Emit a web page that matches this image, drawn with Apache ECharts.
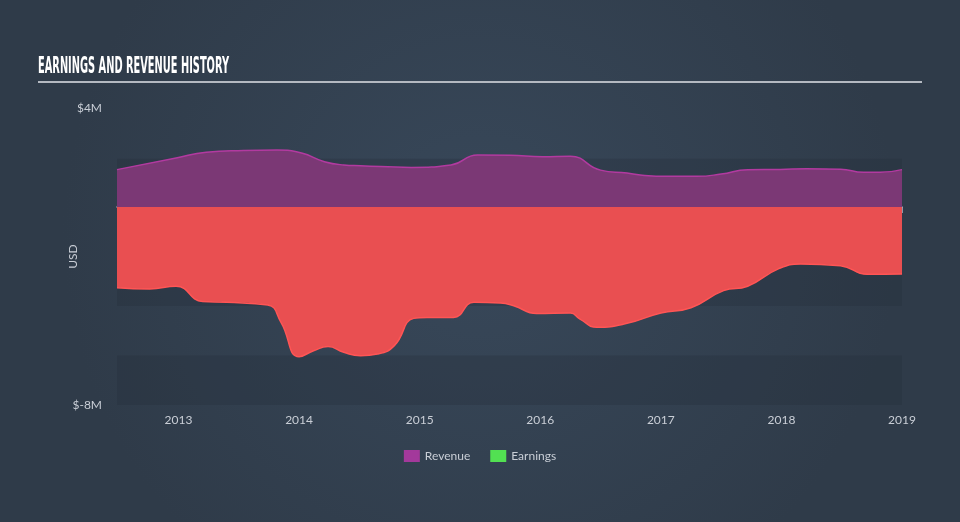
<!DOCTYPE html>
<html>
<head>
<meta charset="utf-8">
<script src="https://cdn.jsdelivr.net/npm/echarts@6/dist/echarts.min.js"></script>
<style>html,body{margin:0;padding:0;}#c{width:960px;height:522px;}</style>
</head>
<body>
<div id="c"></div>
<script>
var revYears = [2012.49, 2012.98, 2013.23, 2013.54, 2013.82, 2014.02, 2014.21, 2014.37, 2014.51, 2014.93, 2015.26, 2015.48, 2015.75, 2016.02, 2016.25, 2016.50, 2016.72, 2016.83, 2017.06, 2017.30, 2017.50, 2017.72, 2017.99, 2018.21, 2018.49, 2018.68, 2018.82, 2019.0];
var revenue = [1.51, 1.98, 2.21, 2.28, 2.30, 2.18, 1.83, 1.70, 1.67, 1.60, 1.70, 2.10, 2.09, 2.03, 2.05, 1.49, 1.37, 1.29, 1.24, 1.24, 1.33, 1.51, 1.52, 1.55, 1.53, 1.40, 1.40, 1.51];
var earnYears = [2012.49, 2012.76, 2012.98, 2013.20, 2013.40, 2013.74, 2013.85, 2014.0, 2014.12, 2014.24, 2014.37, 2014.51, 2014.65, 2014.79, 2014.95, 2015.06, 2015.28, 2015.45, 2015.67, 2015.78, 2015.97, 2016.25, 2016.33, 2016.47, 2016.72, 2017.0, 2017.25, 2017.52, 2017.72, 2017.97, 2018.16, 2018.49, 2018.71, 2019.0];
var earnings = [-3.26, -3.31, -3.20, -3.82, -3.85, -3.96, -4.66, -6.05, -5.81, -5.64, -5.87, -6.01, -5.94, -5.60, -4.50, -4.46, -4.46, -3.85, -3.88, -3.99, -4.30, -4.28, -4.53, -4.86, -4.70, -4.28, -4.07, -3.38, -3.20, -2.51, -2.30, -2.37, -2.72, -2.71];
var yearTicks = [2013, 2014, 2015, 2016, 2017, 2018, 2019];
var yTicks = [4, -8];
var bands = [[1.95, -4], [-6, -8]];

function pairs(xs, ys) { return xs.map(function (x, i) { return [x, ys[i]]; }); }

var chart = echarts.init(document.getElementById('c'));
var labelColor = '#c9ced6';
chart.setOption({
  animation: false,
  backgroundColor: {
    type: 'radial', x: 0.5, y: 0.45, r: 0.8,
    colorStops: [{offset: 0, color: '#38485a'}, {offset: 1, color: '#2f3b49'}]
  },
  graphic: [
    {type: 'text', left: 38, top: 56, scaleX: 0.475,
     style: {text: 'EARNINGS AND REVENUE HISTORY', fill: '#ffffff', font: 'bold 23px "Liberation Sans Narrow", "DejaVu Sans Condensed", sans-serif'}},
    {type: 'rect', left: 38, top: 81, shape: {width: 884, height: 2}, style: {fill: '#b4b9c1'}}
  ],
  grid: {left: 117, right: 58, top: 108, bottom: 117},
  legend: {
    bottom: 55, left: 'center', icon: 'rect', itemWidth: 16, itemHeight: 12, itemGap: 20,
    textStyle: {color: labelColor, fontSize: 12, fontFamily: 'Lato, "Noto Sans", sans-serif'},
    data: [
      {name: 'Revenue', itemStyle: {color: '#a3399b'}},
      {name: 'Earnings', itemStyle: {color: '#52e052'}}
    ]
  },
  xAxis: {
    type: 'value', min: 2012.49, max: 2019.0,
    splitLine: {show: false},
    axisLine: {show: true, lineStyle: {color: '#aebbca', width: 1.5}},
    axisTick: {show: true, customValues: yearTicks, length: 6, lineStyle: {color: '#aebbca', width: 1.5}},
    axisLabel: {customValues: yearTicks, color: labelColor, fontSize: 12, margin: 9,
      fontFamily: 'Lato, "Noto Sans", sans-serif', formatter: function (v) { return String(Math.round(v)); }}
  },
  yAxis: {
    type: 'value', min: -8, max: 4,
    name: 'USD', nameLocation: 'middle', nameGap: 38, nameMoveOverlap: false,
    nameTextStyle: {color: labelColor, fontSize: 12, fontFamily: 'Lato, "Noto Sans", sans-serif'},
    splitLine: {show: false}, axisLine: {show: false}, axisTick: {show: false},
    axisLabel: {customValues: yTicks, color: labelColor, fontSize: 12, margin: 15,
      fontFamily: 'Lato, "Noto Sans", sans-serif', formatter: function (v) { return '$' + v + 'M'; }}
  },
  series: [
    {
      name: 'bands', type: 'line', data: [], z: 0, silent: true,
      markArea: {silent: true, itemStyle: {color: 'rgba(36,46,60,0.32)'},
        data: bands.map(function (b) { return [{yAxis: b[0]}, {yAxis: b[1]}]; })}
    },
    {
      name: 'Revenue', type: 'line', data: pairs(revYears, revenue), smooth: 0.5,
      showSymbol: false, z: 3,
      lineStyle: {color: '#b23aa0', width: 1.5},
      itemStyle: {color: '#a3399b'},
      areaStyle: {color: '#7b3875', opacity: 1}
    },
    {
      name: 'Earnings', type: 'line', data: pairs(earnYears, earnings), smooth: 0.5,
      showSymbol: false, z: 3,
      lineStyle: {color: '#ff5555', width: 1.5},
      itemStyle: {color: '#52e052'},
      areaStyle: {color: '#e94f51', opacity: 1}
    }
  ]
});
</script>
</body>
</html>
